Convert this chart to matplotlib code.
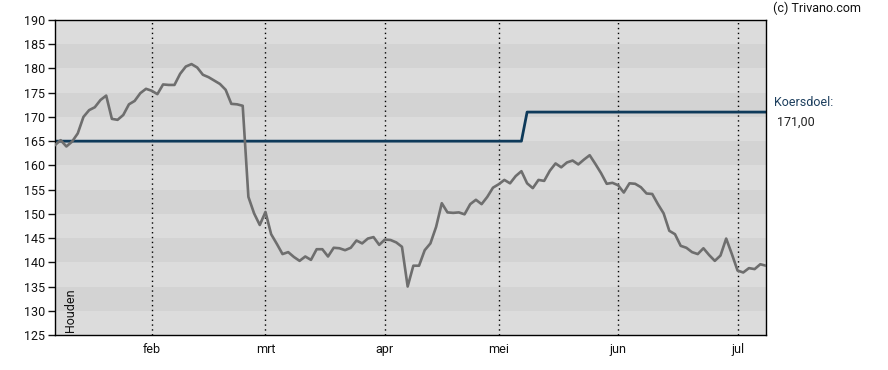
import numpy as np
import matplotlib.pyplot as plt

plt.rcParams['font.family'] = ['Roboto', 'DejaVu Sans']

# koers per handelsdag (index 0 = begin januari)
prices = [164.2, 165.2, 163.9, 164.9, 166.6, 170.0, 171.4, 172.0, 173.5, 174.4,
          169.6, 169.4, 170.4, 172.6, 173.3, 174.9, 175.8, 175.4, 174.7, 176.7,
          176.6, 176.6, 178.9, 180.4, 180.9, 180.2, 178.7, 178.2, 177.5, 176.8,
          175.6, 172.7, 172.6, 172.3, 153.5, 150.1, 147.7, 150.4, 145.8, 143.8,
          141.7, 142.1, 141.1, 140.3, 141.2, 140.5, 142.7, 142.7, 141.2, 143.0,
          142.9, 142.5, 143.0, 144.5, 143.9, 144.9, 145.2, 143.6, 144.7, 144.6,
          144.1, 143.2, 135.0, 139.3, 139.3, 142.5, 143.9, 147.3, 152.2, 150.3,
          150.2, 150.3, 149.9, 152.0, 152.9, 152.0, 153.5, 155.4, 156.1, 157.0,
          156.3, 157.8, 158.8, 156.3, 155.3, 157.0, 156.8, 158.9, 160.4, 159.6,
          160.6, 161.0, 160.2, 161.2, 162.1, 160.3, 158.4, 156.2, 156.4, 155.9,
          154.4, 156.3, 156.2, 155.5, 154.2, 154.1, 152.0, 150.1, 146.5, 145.8,
          143.4, 143.0, 142.1, 141.7, 142.9, 141.5, 140.3, 141.4, 144.9, 141.7,
          138.3, 137.9, 138.8, 138.6, 139.6, 139.3]

# koersdoel (stap van 165 naar 171)
target_idx = [0, 82, 83, 125]
target_vals = [165, 165, 171, 171]

month_idx = [17, 37, 58, 78, 99, 120]
month_labels = ["feb", "mrt", "apr", "mei", "jun", "jul"]

fig = plt.figure(figsize=(8.88, 3.7), dpi=100)
ax = fig.add_axes([55/888, 35/370, 711/888, 315/370])

ymin, ymax = 125, 190
ax.set_facecolor("#dcdcdc")
for lo in range(130, 190, 10):
    ax.axhspan(lo, lo + 5, color="#d3d3d3", lw=0, zorder=0)

for m in month_idx:
    ax.axvline(m, color="black", lw=1, ls=(0, (1, 2.5)), zorder=1)

x = np.arange(len(prices))
ax.plot(target_idx, target_vals, color="#0e3a5a", lw=2, zorder=2)
ax.plot(x, prices, color="#6e6e6e", lw=1.9, zorder=3)

ax.set_xlim(0, len(prices) - 1)
ax.set_ylim(ymin, ymax)
ax.set_yticks(range(125, 191, 5))
ax.set_xticks(month_idx)
ax.set_xticklabels(month_labels)
ax.tick_params(axis="y", length=5, width=1, labelsize=9, colors="#111111", pad=2)
ax.tick_params(axis="x", length=0, labelsize=9, colors="#111111", pad=6)
for s in ax.spines.values():
    s.set_color("black")
    s.set_linewidth(1)

ax.text(0.012, 0.01, "Houden", transform=ax.transAxes, rotation=90,
        ha="left", va="bottom", fontsize=9, color="#111111")

fig.text(773/888, 1 - 8/370, "(c) Trivano.com", ha="left", va="center",
         fontsize=9, color="#111111")
fig.text(774/888, 1 - 103/370, "Koersdoel:", ha="left", va="center",
         fontsize=9, color="#1d3f5e")
fig.text(777/888, 1 - 122/370, "171,00", ha="left", va="center",
         fontsize=9, color="#222222")

fig.savefig("out.png", dpi=100)
